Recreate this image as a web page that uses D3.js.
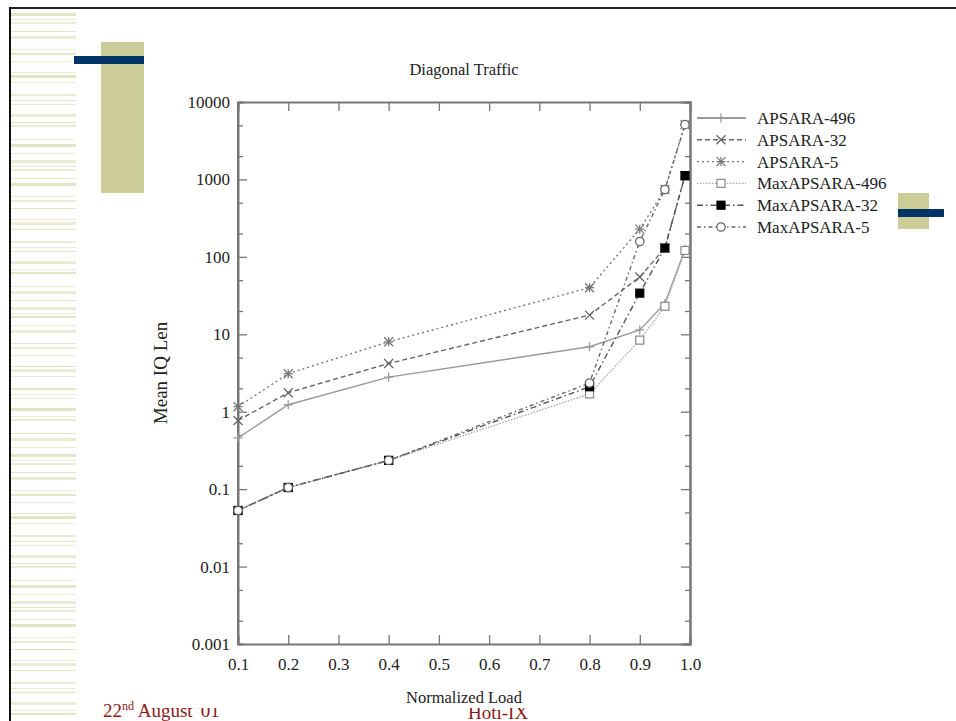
<!DOCTYPE html>
<html>
<head>
  <meta charset="utf-8">
  <script src="https://d3js.org/d3.v7.min.js"></script>
  <style>
    body { margin: 0; background: #fff; }
    svg { display: block; }
    text { font-family: "Liberation Serif", "DejaVu Serif", serif; fill: #222; }
  </style>
</head>
<body>
  <div id="chart"></div>

  <script>
    // values
    const loads = [0.1, 0.2, 0.4, 0.8, 0.9, 0.95, 0.99];
    const apsara496 = [0.46, 1.23, 2.8, 6.9, 11.4, 25, 125];
    const apsara32 = [0.77, 1.76, 4.2, 17.7, 55, 130, 1120];
    const apsara5 = [1.16, 3.1, 8.0, 40, 228, 740, 5100];
    const maxApsara496 = [0.053, 0.105, 0.235, 1.7, 8.4, 23, 121];
    const maxApsara32 = [0.053, 0.105, 0.235, 2.1, 34, 130, 1120];
    const maxApsara5 = [0.053, 0.105, 0.235, 2.35, 158, 740, 5100];

    const xTicks = [0.1, 0.2, 0.3, 0.4, 0.5, 0.6, 0.7, 0.8, 0.9, 1.0];
    const yTicks = [0.001, 0.01, 0.1, 1, 10, 100, 1000, 10000];

    const series = [
      { name: "APSARA-496", values: apsara496, color: "#9a9a9a", dash: null, marker: "plus" },
      { name: "APSARA-32", values: apsara32, color: "#666", dash: "5,3", marker: "cross" },
      { name: "APSARA-5", values: apsara5, color: "#777", dash: "2,3", marker: "star" },
      { name: "MaxAPSARA-496", values: maxApsara496, color: "#aaa", dash: "1.5,1.5", marker: "square" },
      { name: "MaxAPSARA-32", values: maxApsara32, color: "#555", dash: "6,3,1.5,3", marker: "fsquare" },
      { name: "MaxAPSARA-5", values: maxApsara5, color: "#666", dash: "4,3,1.5,3", marker: "circle" }
    ];

    const W = 956, H = 721;
    const svg = d3.select("#chart").append("svg")
      .attr("width", W).attr("height", H);

    // slide decoration: striped left column
    const deco = svg.append("g");
    const stripeSteps = [6, 3, 9, 5, 13, 4, 8, 11, 3, 7, 12, 6, 4, 10, 8, 3, 14, 5, 9, 7];
    const stripeW = [3, 1, 2, 1, 3, 1, 2, 1, 1, 3, 1, 2, 1, 1, 3, 1, 2, 1, 3, 1];
    let sy = 13, k = 0;
    while (sy < H) {
      deco.append("rect")
        .attr("x", 11).attr("y", sy)
        .attr("width", 65).attr("height", stripeW[k % stripeW.length])
        .attr("fill", k % 3 === 0 ? "#e4e4c6" : "#ecebd6");
      sy += stripeSteps[k % stripeSteps.length];
      k++;
    }

    // footer text (partially hidden by the chart image)
    deco.append("text").attr("x", 103).attr("y", 717)
      .style("font-size", "19px").style("fill", "#8b1a1a")
      .html('22<tspan dy="-7" style="font-size:12px">nd</tspan><tspan dy="7"> August \'01</tspan>');
    deco.append("text").attr("x", 468).attr("y", 719)
      .style("font-size", "19px").style("fill", "#8b1a1a").text("Hoti-IX");

    // chart image background
    deco.append("rect").attr("x", 150).attr("y", 20).attr("width", 740).attr("height", 688).attr("fill", "#fff");

    deco.append("rect").attr("x", 101).attr("y", 42).attr("width", 43).attr("height", 151).attr("fill", "#cccc99");
    deco.append("rect").attr("x", 74).attr("y", 56).attr("width", 70).attr("height", 8).attr("fill", "#003366");
    deco.append("rect").attr("x", 898).attr("y", 193).attr("width", 31).attr("height", 36).attr("fill", "#cccc99");
    deco.append("rect").attr("x", 898).attr("y", 209).attr("width", 46).attr("height", 8).attr("fill", "#003366");

    deco.append("rect").attr("x", 9).attr("y", 7).attr("width", W - 9).attr("height", 2).attr("fill", "#222");
    deco.append("rect").attr("x", 9).attr("y", 7).attr("width", 2).attr("height", H - 7).attr("fill", "#111");

    // scales
    const x = d3.scaleLinear().domain([0.1, 1.0]).range([238, 690]);
    const y = d3.scaleLog().domain([0.001, 10000]).range([644, 102]);

    const plot = svg.append("g");
    const frameColor = "#777";

    // minor log ticks
    const minor = [];
    yTicks.slice(0, -1).forEach(t => [2, 5].forEach(m => minor.push(t * m)));

    const axL = d3.axisLeft(y).tickValues(yTicks).tickFormat(d => String(+d.toPrecision(1))).tickSize(-9).tickPadding(8);
    const axR = d3.axisRight(y).tickValues(yTicks).tickFormat("").tickSize(-9);
    const axB = d3.axisBottom(x).tickValues(xTicks).tickFormat(d3.format(".1f")).tickSize(-9).tickPadding(14);
    const axT = d3.axisTop(x).tickValues(xTicks).tickFormat("").tickSize(-9);

    const gL = plot.append("g").attr("transform", `translate(${x(0.1)},0)`).call(axL);
    plot.append("g").attr("transform", `translate(${x(1.0)},0)`).call(axR);
    plot.append("g").attr("transform", `translate(0,${y(0.001)})`).call(axB);
    plot.append("g").attr("transform", `translate(0,${y(10000)})`).call(axT);
    plot.append("g").attr("transform", `translate(${x(0.1)},0)`)
      .call(d3.axisLeft(y).tickValues(minor).tickFormat("").tickSize(-5));
    plot.append("g").attr("transform", `translate(${x(1.0)},0)`)
      .call(d3.axisRight(y).tickValues(minor).tickFormat("").tickSize(-5));

    plot.selectAll(".domain").attr("stroke", frameColor).attr("stroke-width", 2);
    plot.selectAll(".tick line").attr("stroke", frameColor).attr("stroke-width", 1.3);
    plot.selectAll(".tick text")
      .style("font-family", '"Liberation Serif", serif')
      .style("font-size", "17px").attr("fill", "#222");
    gL.selectAll(".domain").attr("d", `M0,${y(0.001)}V${y(10000)}`);

    // lines
    const line = d3.line().x(d => x(d[0])).y(d => y(d[1]));
    series.forEach(s => {
      const pts = loads.map((l, i) => [l, s.values[i]]);
      plot.append("path").datum(pts)
        .attr("d", line)
        .attr("fill", "none")
        .attr("stroke", s.color)
        .attr("stroke-width", 1.4)
        .attr("stroke-dasharray", s.dash);
    });

    function marker(g, type, cx, cy, color) {
      const r = 4.5;
      if (type === "plus" || type === "star") {
        g.append("path").attr("d", `M${cx - r},${cy}H${cx + r}M${cx},${cy - r}V${cy + r}`)
          .attr("stroke", color).attr("stroke-width", 1.3);
      }
      if (type === "cross" || type === "star") {
        g.append("path").attr("d", `M${cx - r},${cy - r}L${cx + r},${cy + r}M${cx - r},${cy + r}L${cx + r},${cy - r}`)
          .attr("stroke", color).attr("stroke-width", 1.3);
      }
      if (type === "square" || type === "fsquare") {
        g.append("rect").attr("x", cx - 4).attr("y", cy - 4).attr("width", 8).attr("height", 8)
          .attr("fill", type === "fsquare" ? "#000" : "#fff")
          .attr("stroke", type === "fsquare" ? "#000" : "#888").attr("stroke-width", 1.2);
      }
      if (type === "circle") {
        g.append("circle").attr("cx", cx).attr("cy", cy).attr("r", 4.2)
          .attr("fill", "#fff").attr("stroke", "#666").attr("stroke-width", 1.3);
      }
    }

    series.forEach(s => {
      const g = plot.append("g");
      loads.forEach((l, i) => marker(g, s.marker, x(l), y(s.values[i]), s.color));
    });

    // legend
    const leg = plot.append("g");
    series.forEach((s, i) => {
      const ly = 118 + i * 21.8;
      leg.append("line").attr("x1", 697).attr("x2", 746).attr("y1", ly).attr("y2", ly)
        .attr("stroke", s.color).attr("stroke-width", s.dash ? 1.4 : 2)
        .attr("stroke-dasharray", s.dash);
      marker(leg, s.marker, 721, ly, s.color);
      leg.append("text").attr("x", 757).attr("y", ly + 6)
        .style("font-size", "17px").text(s.name);
    });

    // titles
    plot.append("text").attr("x", 464).attr("y", 75).attr("text-anchor", "middle")
      .style("font-size", "16.5px").text("Diagonal Traffic");
    plot.append("text").attr("x", 464).attr("y", 703).attr("text-anchor", "middle")
      .style("font-size", "16.5px").text("Normalized Load");
    plot.append("text").attr("transform", "translate(167,373) rotate(-90)").attr("text-anchor", "middle")
      .style("font-size", "19px").text("Mean IQ Len");
  </script>
</body>
</html>
